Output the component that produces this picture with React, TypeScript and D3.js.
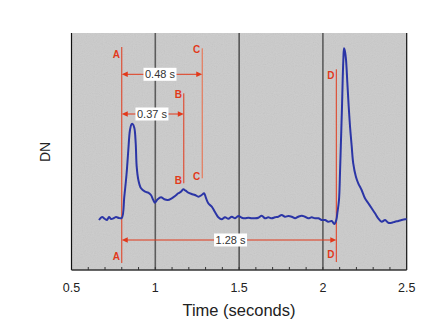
import React from "react";
import * as d3 from "d3";

const times = [0.664,0.682,0.7,0.712,0.724,0.736,0.754,0.766,0.783,0.8,0.815,0.829,0.839,0.849,0.859,0.865,0.875,0.883,0.889,0.899,0.915,0.939,0.958,0.974,0.988,0.998,1.014,1.034,1.054,1.074,1.098,1.118,1.137,1.153,1.167,1.181,1.197,1.217,1.237,1.257,1.277,1.291,1.301,1.316,1.337,1.356,1.376,1.396,1.416,1.436,1.456,1.476,1.495,1.516,1.535,1.555,1.575,1.595,1.615,1.635,1.655,1.674,1.695,1.714,1.734,1.754,1.774,1.794,1.814,1.834,1.853,1.874,1.893,1.913,1.933,1.953,1.973,1.993,2.013,2.032,2.053,2.068,2.08,2.086,2.096,2.102,2.108,2.114,2.118,2.122,2.126,2.132,2.138,2.146,2.154,2.162,2.172,2.181,2.197,2.211,2.231,2.251,2.271,2.291,2.311,2.33,2.351,2.371,2.39,2.411,2.43,2.45,2.47,2.49,2.5];
const dnValues = [50,53,51,50,53,51,52,53,52,52,73.3,97,120,140,146,146,142,127,103.3,90,81.7,78.3,77.3,75,70,67.3,70.7,72.7,70.7,70,71.7,74,76.7,78.3,80.7,79.3,77.3,76,75,73.3,75,76.7,72.7,66.7,63.3,58,52.7,50.7,52.7,51.3,53.3,51.7,54,52.3,51.7,52.3,51.7,51.7,52.3,54.3,51.7,52.7,51.7,52.7,53.3,55,53.3,54,53.3,51.7,53.3,54.3,53.3,51.7,52.7,51.7,51.7,50,50,48.3,49,46,50,56.7,70,96.7,130,163.3,190,210,221.7,218.3,210,186.7,163.3,143.3,123.3,106.7,93.3,86.7,80,71.7,66.7,61.7,56.7,51.7,48.3,50,47.3,47.3,48.3,49,50,50.7,50.7];

const xTicks = [0.5, 1, 1.5, 2, 2.5];
const xTickLabels = ["0.5", "1", "1.5", "2", "2.5"];
const minorTicks = d3.range(6, 25).map((v) => v / 10);
const gridTimes = [1, 1.5, 2];

const markerLabels = ["A", "B", "C", "D"];
const markerTimes = [0.8, 1.17, 1.28, 2.08];
const markerTopDN = [223, 176.7, 221.7, 200.7];
const markerBottomDN = [7, 86.7, 91.7, 8];
const markerTopLabelDN = [212.5, 172, 217, 190.7];
const markerBottomLabelDN = [10, 85.7, 90, 11.7];

const intervalLabels = ["0.48 s", "0.37 s", "1.28 s"];
const intervalStart = [0.8, 0.8, 0.8];
const intervalEnd = [1.28, 1.17, 2.08];
const intervalDN = [195.7, 156, 30];
const intervalLabelT = [1.028, 0.98, 1.449];

const W = 432, H = 329;
const left = 71.5, right = 406.7, top = 33, bottom = 270;
const RED = "#e2391b";

export default function App() {
  const x = d3.scaleLinear().domain([0.5, 2.5]).range([left, right]);
  const y = d3.scaleLinear().domain([0, 237]).range([bottom, top]);
  const pts = times.map((t, i) => [t, dnValues[i]] as [number, number]);
  const line = d3.line<[number, number]>().x((d) => x(d[0])).y((d) => y(d[1])).curve(d3.curveCatmullRom.alpha(0.5));
  const font = "'Liberation Sans', Arial, Helvetica, sans-serif";

  return (
    <svg width={W} height={H} style={{ position: "absolute", left: 0, top: 0 }} fontFamily={font}>
      <defs>
        <filter id="noise" x="0" y="0" width="100%" height="100%">
          <feTurbulence type="fractalNoise" baseFrequency="0.9" numOctaves="1" seed="3" />
          <feColorMatrix type="saturate" values="0" />
          <feComponentTransfer>
            <feFuncA type="table" tableValues="0 0.18" />
          </feComponentTransfer>
        </filter>
      </defs>
      <rect x={0} y={0} width={W} height={H} fill="#ffffff" />
      <rect x={left} y={top} width={right - left} height={bottom - top} fill="#cbcbcb" />
      <rect x={left} y={top} width={right - left} height={bottom - top} filter="url(#noise)" />
      {gridTimes.map((t) => (
        <line key={t} x1={x(t)} x2={x(t)} y1={top} y2={bottom}
          stroke={t === 1.5 ? "#111" : "#5c5c5c"} strokeWidth={t === 1.5 ? 1 : 1.6} />
      ))}
      <line x1={left} x2={left} y1={top} y2={bottom} stroke="#111" strokeWidth={1.2} />
      <line x1={right} x2={right} y1={top} y2={bottom} stroke="#111" strokeWidth={1.2} />
      <line x1={left} x2={right} y1={bottom} y2={bottom} stroke="#333" strokeWidth={1.5} />
      {minorTicks.map((t) => (
        <line key={t} x1={x(t)} x2={x(t)} y1={bottom} y2={bottom - 3} stroke="#333" strokeWidth={1} />
      ))}
      {xTicks.map((t, i) => (
        <text key={t} x={x(t)} y={291.7} textAnchor="middle" fontSize={12.5} fill="#222">{xTickLabels[i]}</text>
      ))}
      <text x={239} y={316} textAnchor="middle" fontSize={16.5} fill="#222">Time (seconds)</text>
      <text transform="translate(49.5,152) rotate(-90)" textAnchor="middle" fontSize={14} fill="#222">DN</text>

      {markerTimes.map((t, i) => (
        <g key={markerLabels[i]}>
          <line x1={x(t)} x2={x(t)} y1={y(markerTopDN[i])} y2={y(markerBottomDN[i])}
            stroke={markerLabels[i] === "C" ? "#ec6a45" : RED} strokeWidth={1} />
          <text x={x(t) - 5.5} y={y(markerTopLabelDN[i])} textAnchor="middle" fontSize={10} fontWeight="bold" fill={RED}>{markerLabels[i]}</text>
          <text x={x(t) - 5.5} y={y(markerBottomLabelDN[i])} textAnchor="middle" fontSize={10} fontWeight="bold" fill={RED}>{markerLabels[i]}</text>
        </g>
      ))}

      {intervalLabels.map((lab, i) => {
        const x1 = x(intervalStart[i]);
        const x2 = x(intervalEnd[i]);
        const yy = y(intervalDN[i]);
        const cx = x(intervalLabelT[i]);
        return (
          <g key={lab}>
            <line x1={x1 + 5} x2={x2 - 5} y1={yy} y2={yy} stroke={RED} strokeWidth={1} />
            <path d={`M${x1},${yy} L${x1 + 6},${yy - 2.8} L${x1 + 6},${yy + 2.8} Z`} fill={RED} />
            <path d={`M${x2},${yy} L${x2 - 6},${yy - 2.8} L${x2 - 6},${yy + 2.8} Z`} fill={RED} />
            <rect x={cx - 16.5} y={yy - 6.5} width={33} height={13} fill="#ffffff" />
            <text x={cx} y={yy + 3.8} textAnchor="middle" fontSize={11} fill="#333">{lab}</text>
          </g>
        );
      })}

      <path d={line(pts) || ""} fill="none" stroke="#2b35a6" strokeWidth={2} strokeLinejoin="round" />
    </svg>
  );
}
